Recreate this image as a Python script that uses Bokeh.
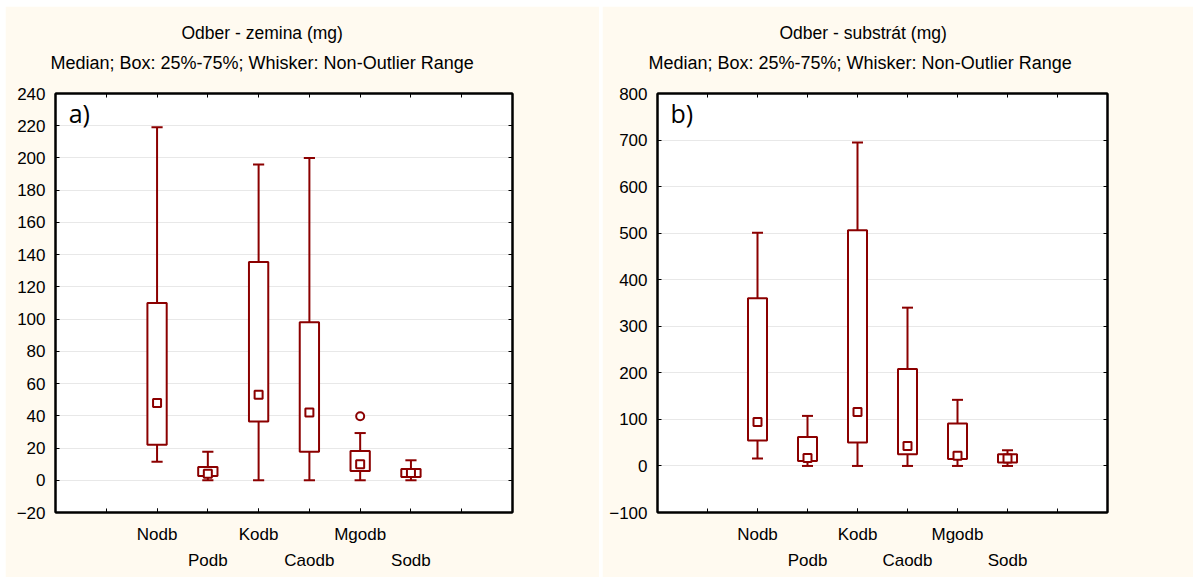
from bokeh.plotting import figure
from bokeh.models import (Range1d, FixedTicker, LinearAxis, Title, Label, Spacer)
from bokeh.layouts import row, column
from bokeh.embed import file_html
from bokeh.resources import INLINE

categories = ["Nodb", "Podb", "Kodb", "Caodb", "Mgodb", "Sodb"]
slots = [2, 3, 4, 5, 6, 7]  # category slot on the 0..9 axis

# a) Odber - zemina (mg)
med_a = [48, 4, 53, 42, 10, 4.5]
q1_a = [22, 2.7, 36.5, 17.7, 5.8, 2]
q3_a = [110, 8.3, 135.5, 98, 18.2, 7]
lo_a = [11.5, 0, 0, 0, 0, 0]
hi_a = [219, 17.7, 196, 200, 29.3, 12.4]
out_cat_a = ["Mgodb"]
out_val_a = [39.7]
yticks_a = [-20, 0, 20, 40, 60, 80, 100, 120, 140, 160, 180, 200, 220, 240]

# b) Odber - substrát (mg)
med_b = [94.6, 17, 116, 43, 22, 16]
q1_b = [54.6, 10.7, 50.3, 25, 15, 7.3]
q3_b = [360, 62, 506, 208.5, 91, 25]
lo_b = [16, 0, 0, 0, 0, 0]
hi_b = [501, 107.5, 695, 340, 142, 33.7]
out_cat_b = []
out_val_b = []
yticks_b = [-100, 0, 100, 200, 300, 400, 500, 600, 700, 800]

RED = "#8B0000"
BG = "#FFFAF0"
FONT = "Liberation Sans"
FS = "17px"


def tick_only_axis(ticks):
    a = LinearAxis(ticker=FixedTicker(ticks=[], minor_ticks=ticks))
    a.major_tick_line_color = None
    a.minor_tick_in = 4
    a.minor_tick_out = 0
    a.minor_tick_line_color = "black"
    a.axis_line_width = 2
    a.major_label_text_color = None
    a.major_label_text_font_size = "1px"
    a.major_label_standoff = 0
    return a


def make_panel(title, letter, med, q1, q3, lo, hi, oc, ov, yticks, width, ml, mr,
               title_off, sub_off):
    xs = [slots[categories.index(c)] for c in categories]
    p = figure(width=width, height=571, output_backend="svg", toolbar_location=None,
               x_range=Range1d(0, 9), y_range=Range1d(yticks[0], yticks[-1]),
               x_axis_location=None, y_axis_location=None,
               min_border_left=ml, min_border_right=mr,
               min_border_top=87, min_border_bottom=65)
    p.background_fill_color = "white"
    p.border_fill_color = BG
    p.outline_line_color = "black"
    p.outline_line_width = 2
    p.xgrid.visible = False

    # left axis
    la = LinearAxis(ticker=FixedTicker(ticks=yticks))
    la.major_tick_in = 4
    la.major_tick_out = 0
    la.minor_tick_line_color = None
    la.axis_line_width = 2
    la.major_label_text_font = FONT
    la.major_label_text_font_size = FS
    la.major_label_text_color = "black"
    la.major_label_standoff = 10
    p.add_layout(la, "left")
    p.ygrid.ticker = FixedTicker(ticks=yticks)
    p.ygrid.grid_line_color = "#e8e8e8"
    p.ygrid.grid_line_width = 1

    xt = list(range(0, 10))
    # right and top axes: ticks only
    p.add_layout(tick_only_axis(yticks), "right")
    p.add_layout(tick_only_axis(xt), "above")

    # bottom axes: two staggered rows of category labels
    row1 = [slots[i] for i in range(len(categories)) if i % 2 == 0]
    row2 = [slots[i] for i in range(len(categories)) if i % 2 == 1]
    lab1 = {slots[i]: categories[i] for i in range(len(categories)) if i % 2 == 0}
    lab2 = {slots[i]: categories[i] for i in range(len(categories)) if i % 2 == 1}
    ba = LinearAxis(ticker=FixedTicker(ticks=row1, minor_ticks=xt), major_label_overrides=lab1)
    ba.major_tick_in = 4
    ba.major_tick_out = 0
    ba.minor_tick_in = 4
    ba.minor_tick_out = 0
    ba.minor_tick_line_color = "black"
    ba.axis_line_width = 2
    ba.major_label_text_font = FONT
    ba.major_label_text_font_size = FS
    ba.major_label_text_color = "black"
    ba.major_label_standoff = 12
    p.add_layout(ba, "below")
    bb = LinearAxis(ticker=FixedTicker(ticks=row2, minor_ticks=[]), major_label_overrides=lab2)
    bb.axis_line_color = None
    bb.major_tick_line_color = None
    bb.minor_tick_line_color = None
    bb.major_tick_out = 0
    bb.major_tick_in = 0
    bb.major_label_text_font = FONT
    bb.major_label_text_font_size = FS
    bb.major_label_text_color = "black"
    bb.major_label_standoff = 4
    p.add_layout(bb, "below")

    # titles
    p.add_layout(Title(text="Median; Box: 25%-75%; Whisker: Non-Outlier Range", align="left",
                       text_font=FONT, text_font_size="18px", text_font_style="normal",
                       text_color="black", standoff=42, offset=sub_off), "above")
    p.add_layout(Title(text=title, align="left",
                       text_font=FONT, text_font_size="17.5px", text_font_style="normal",
                       text_color="black", standoff=-26, offset=title_off), "above")

    # whiskers
    p.segment(xs, q3, xs, hi, line_color=RED, line_width=2)
    p.segment(xs, lo, xs, q1, line_color=RED, line_width=2)
    cap = 0.11
    p.segment([x - cap for x in xs], hi, [x + cap for x in xs], hi, line_color=RED, line_width=2)
    p.segment([x - cap for x in xs], lo, [x + cap for x in xs], lo, line_color=RED, line_width=2)
    # boxes
    bw = 0.19
    p.quad(left=[x - bw for x in xs], right=[x + bw for x in xs], bottom=q1, top=q3,
           fill_color="white", line_color=RED, line_width=2)
    # medians
    p.scatter(xs, med, marker="square", size=8, fill_color="white",
              line_color=RED, line_width=2)
    # outliers
    if oc:
        p.scatter([slots[categories.index(c)] for c in oc], ov, marker="circle", size=8,
                  fill_color="white", line_color=RED, line_width=2)

    p.add_layout(Label(x=0.26, y=yticks[-1], x_units="data", y_units="data", text=letter,
                       text_font="Open Sans", text_font_size="25px", text_color="black",
                       text_baseline="top", x_offset=0, y_offset=-2))
    return p


p1 = make_panel("Odber - zemina (mg)", "a)", med_a, q1_a, q3_a, lo_a, hi_a,
                out_cat_a, out_val_a, yticks_a, 594, 50, 87, 126, -5)
p2 = make_panel("Odber - substrát (mg)", "b)", med_b, q1_b, q3_b, lo_b, hi_b,
                out_cat_b, out_val_b, yticks_b, 591, 55, 86, 122, -9)

layout = column(Spacer(height=6),
                row(Spacer(width=5), p1, Spacer(width=3), p2, spacing=0),
                spacing=0)
open("out.html", "w").write(file_html(layout, INLINE))
